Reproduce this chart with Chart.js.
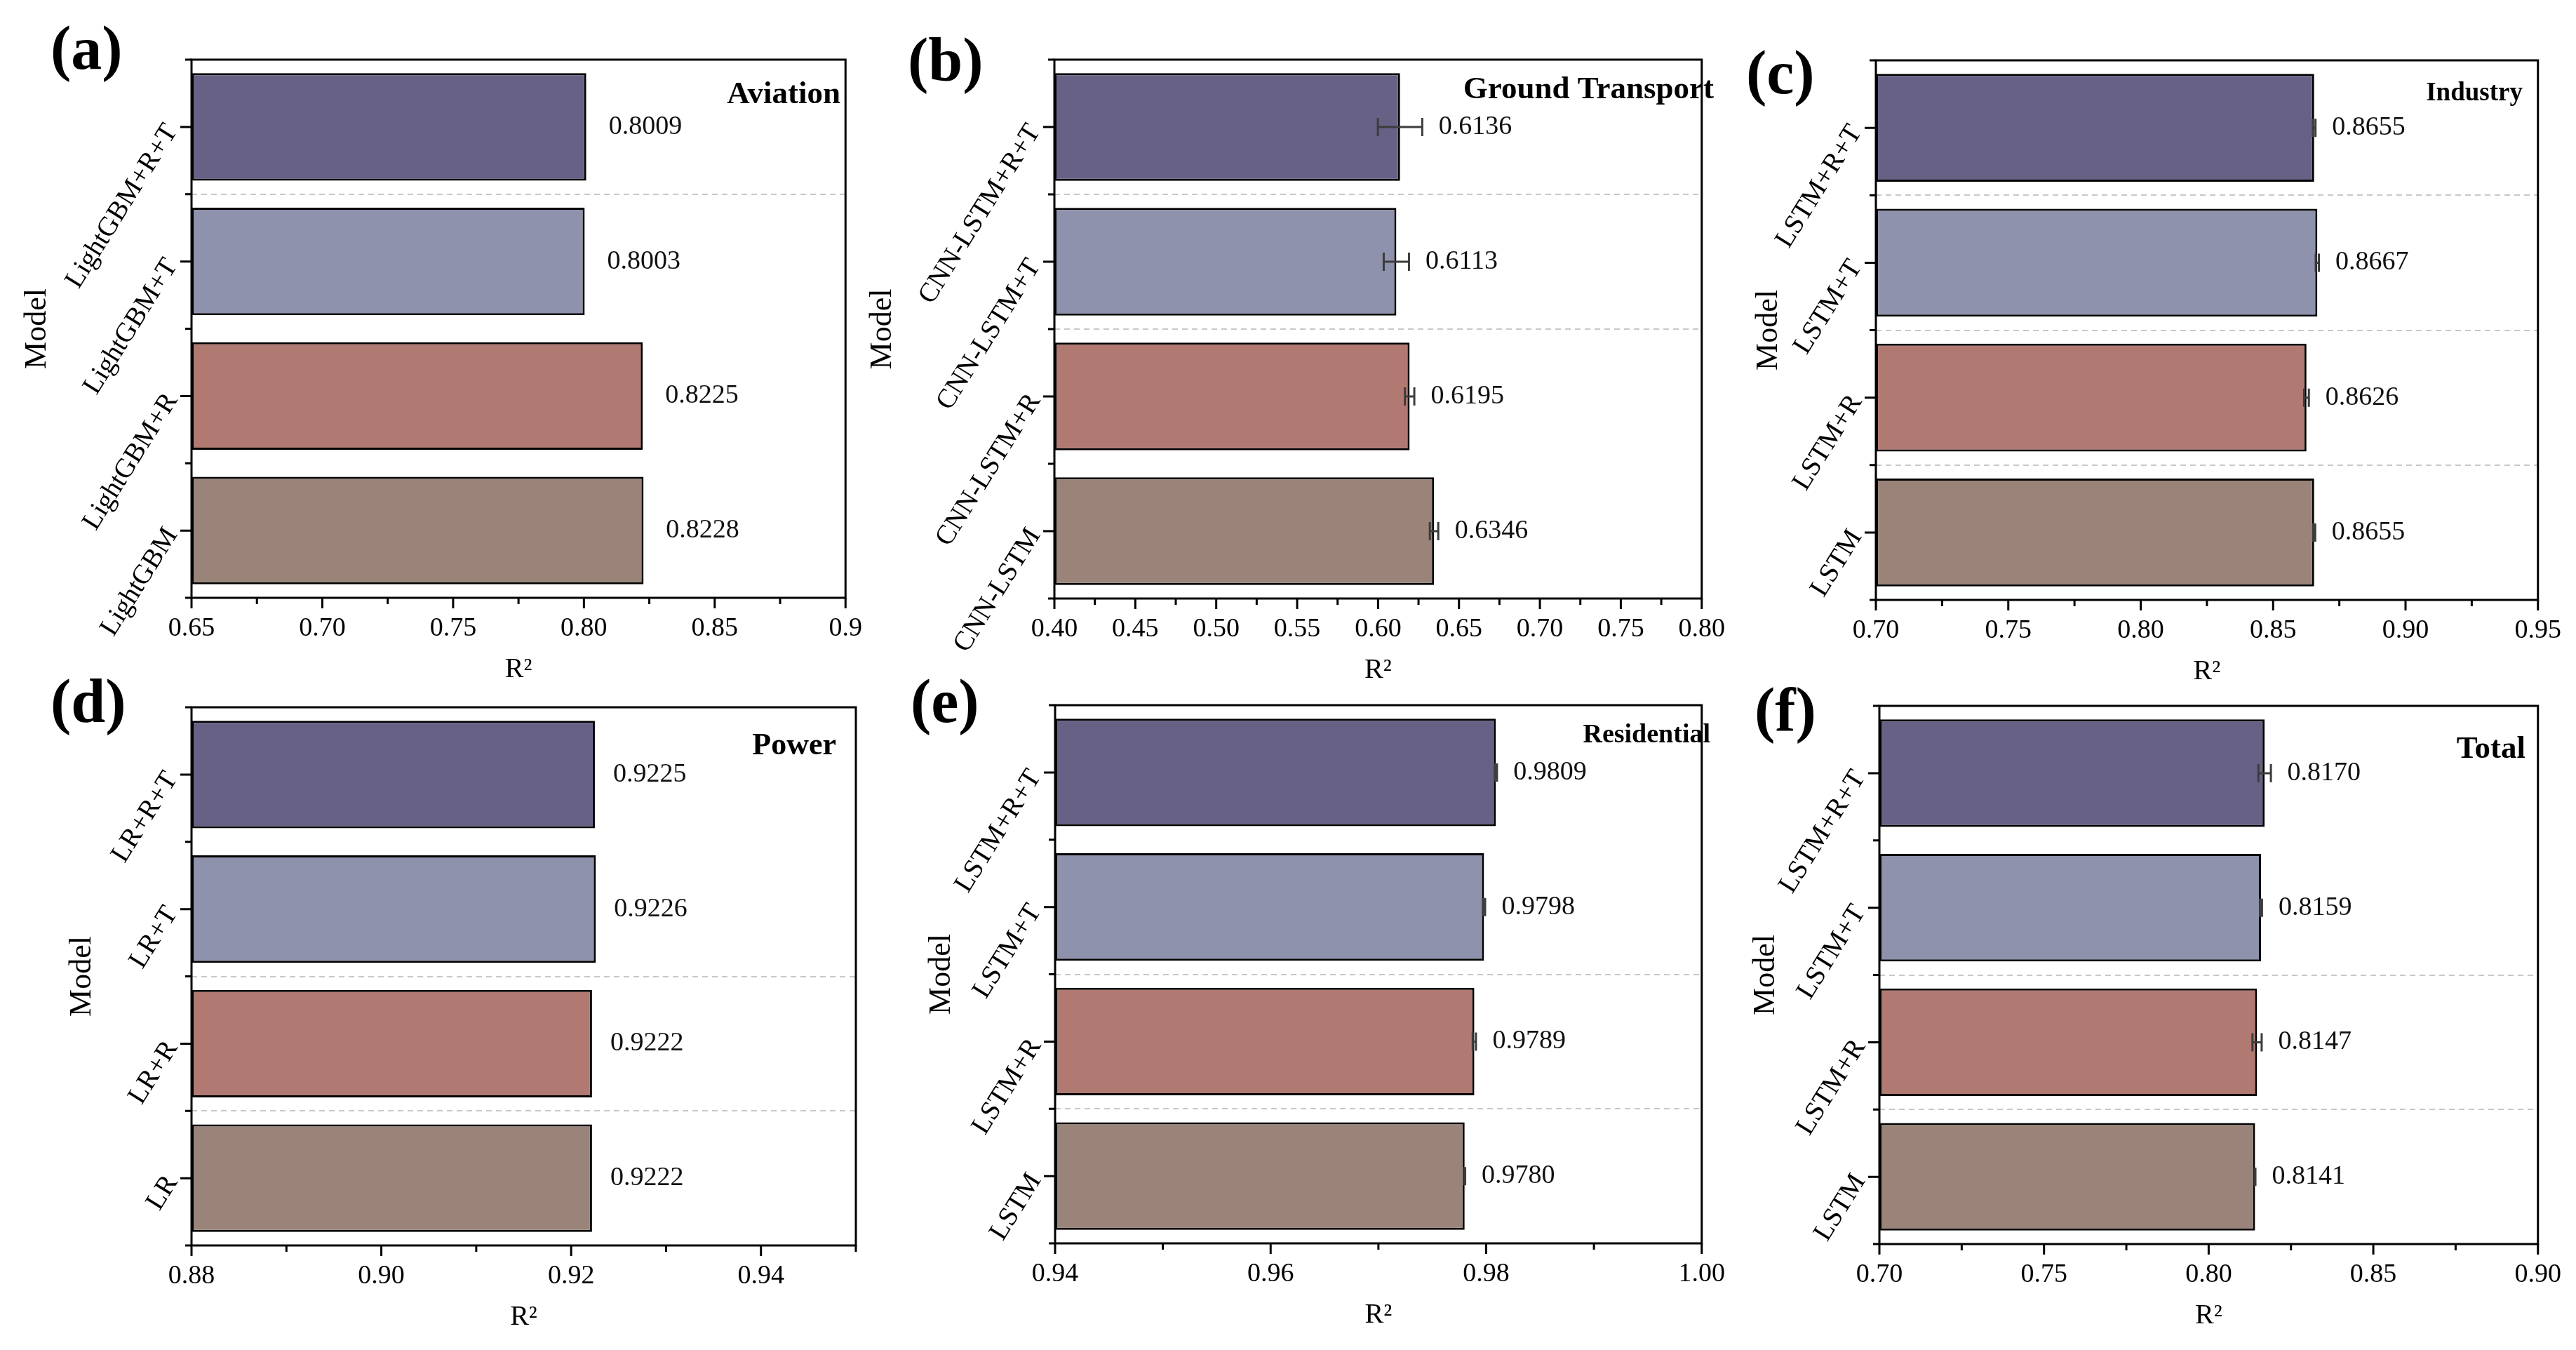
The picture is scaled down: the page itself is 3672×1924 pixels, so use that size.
<!DOCTYPE html>
<html><head><meta charset="utf-8">
<script src="https://cdn.jsdelivr.net/npm/chart.js@4.4.1/dist/chart.umd.min.js"></script>
<style>
html,body{margin:0;padding:0;background:#fff;width:3672px;height:1924px;overflow:hidden;position:relative;}
canvas{position:absolute;}
</style></head><body>
<script>
// ---------------- data ----------------
const aviationModels = ['LightGBM+R+T','LightGBM+T','LightGBM+R','LightGBM'];
const aviationR2 = [0.8009, 0.8003, 0.8225, 0.8228];
const aviationErr = [0, 0, 0, 0];
const aviationTicks = ['0.65','0.70','0.75','0.80','0.85','0.9'];

const groundModels = ['CNN-LSTM+R+T','CNN-LSTM+T','CNN-LSTM+R','CNN-LSTM'];
const groundR2 = [0.6136, 0.6113, 0.6195, 0.6346];
const groundErr = [0.0137, 0.0078, 0.0029, 0.0026];
const groundTicks = ['0.40','0.45','0.50','0.55','0.60','0.65','0.70','0.75','0.80'];

const industryModels = ['LSTM+R+T','LSTM+T','LSTM+R','LSTM'];
const industryR2 = [0.8655, 0.8667, 0.8626, 0.8655];
const industryErr = [0.0005, 0.0006, 0.0009, 0.0004];
const industryTicks = ['0.70','0.75','0.80','0.85','0.90','0.95'];

const powerModels = ['LR+R+T','LR+T','LR+R','LR'];
const powerR2 = [0.9225, 0.9226, 0.9222, 0.9222];
const powerErr = [0, 0, 0, 0];
const powerTicks = ['0.88','0.90','0.92','0.94'];

const residentialModels = ['LSTM+R+T','LSTM+T','LSTM+R','LSTM'];
const residentialR2 = [0.9809, 0.9798, 0.9789, 0.9780];
const residentialErr = [0.0001, 0.0001, 0.00015, 0.00005];
const residentialTicks = ['0.94','0.96','0.98','1.00'];

const totalModels = ['LSTM+R+T','LSTM+T','LSTM+R','LSTM'];
const totalR2 = [0.8170, 0.8159, 0.8147, 0.8141];
const totalErr = [0.0019, 0.0003, 0.0014, 0.0001];
const totalTicks = ['0.70','0.75','0.80','0.85','0.90'];

// ---------------- style / layout ----------------
const FONT = "'Liberation Serif','Times New Roman',serif";
const barColors = ['#676186', '#8E92AC', '#B07A72', '#9A847A'];

const panels = [
  {models: aviationModels, r2: aviationR2, err: aviationErr, ticks: aviationTicks, min: 0.65, max: 0.9,
   canvas: [0, 0, 1250, 1000], plot: [273, 85, 1220, 852], letter: '(a)', letterXY: [72, 98], labelGap: 32,
   title: 'Aviation', titleSize: 45, titleXY: [1198, 147], modelX: 53, dashed: [0]},
  {models: groundModels, r2: groundR2, err: groundErr, ticks: groundTicks, min: 0.4, max: 0.8,
   canvas: [1200, 0, 1280, 1000], plot: [1503, 85, 2450, 853], letter: '(b)', letterXY: [1294, 115], labelGap: 22,
   title: 'Ground Transport', titleSize: 45, titleXY: [2443, 140], modelX: 1258, dashed: [0, 1]},
  {models: industryModels, r2: industryR2, err: industryErr, ticks: industryTicks, min: 0.7, max: 0.95,
   canvas: [2440, 0, 1232, 1000], plot: [2674, 86, 3621, 855], letter: '(c)', letterXY: [2489, 133], labelGap: 22,
   title: 'Industry', titleSize: 37, titleXY: [3596, 143], modelX: 2521, dashed: [0, 1, 2]},
  {models: powerModels, r2: powerR2, err: powerErr, ticks: powerTicks, min: 0.88, max: 0.95,
   canvas: [0, 920, 1250, 1004], plot: [273, 1008, 1220, 1775], letter: '(d)', letterXY: [72, 1029], labelGap: 26,
   title: 'Power', titleSize: 44, titleXY: [1192, 1075], modelX: 117, dashed: [1, 2]},
  {models: residentialModels, r2: residentialR2, err: residentialErr, ticks: residentialTicks, min: 0.94, max: 1.0,
   canvas: [1200, 920, 1280, 1004], plot: [1504, 1005, 2451, 1772], letter: '(e)', letterXY: [1298, 1029], labelGap: 22,
   title: 'Residential', titleSize: 38, titleXY: [2438, 1058], modelX: 1342, dashed: [1, 2]},
  {models: totalModels, r2: totalR2, err: totalErr, ticks: totalTicks, min: 0.7, max: 0.9,
   canvas: [2440, 920, 1232, 1004], plot: [2679, 1006, 3626, 1773], letter: '(f)', letterXY: [2501, 1041], labelGap: 22,
   title: 'Total', titleSize: 45, titleXY: [3600, 1080], modelX: 2517, dashed: [1, 2]}
];

function makeDecor(p) {
  const [cx, cy] = p.canvas;
  return {
    id: 'panelDecor',
    beforeDatasetsDraw(chart) {
      const {ctx, chartArea: a, scales: {y}} = chart;
      ctx.save();
      ctx.strokeStyle = '#c8c8c8';
      ctx.lineWidth = 2;
      ctx.setLineDash([8, 6]);
      p.dashed.forEach(i => {
        const yy = Math.round((y.getPixelForValue(i) + y.getPixelForValue(i + 1)) / 2);
        ctx.beginPath(); ctx.moveTo(a.left, yy); ctx.lineTo(a.right, yy); ctx.stroke();
      });
      ctx.restore();
    },
    afterDatasetsDraw(chart) {
      const {ctx, scales: {x}} = chart;
      const meta = chart.getDatasetMeta(0);
      const ds = chart.data.datasets[0];
      ctx.save();
      meta.data.forEach((bar, i) => {
        const v = ds.data[i], e = ds.errors[i];
        const yy = bar.y;
        let xe = x.getPixelForValue(v);
        if (e > 0) {
          const x0 = x.getPixelForValue(v - e), x1 = x.getPixelForValue(v + e);
          ctx.strokeStyle = '#3c3c3c'; ctx.lineWidth = 3;
          ctx.beginPath();
          ctx.moveTo(x0, yy); ctx.lineTo(x1, yy);
          ctx.moveTo(x0, yy - 13); ctx.lineTo(x0, yy + 13);
          ctx.moveTo(x1, yy - 13); ctx.lineTo(x1, yy + 13);
          ctx.stroke();
          xe = x1 + 1.5;
        }
        ctx.fillStyle = '#111';
        ctx.font = `38px ${FONT}`;
        ctx.textAlign = 'left'; ctx.textBaseline = 'middle';
        ctx.fillText(v.toFixed(4), xe + p.labelGap, yy);
      });
      ctx.restore();
    },
    afterDraw(chart) {
      const {ctx, chartArea: a, scales: {x, y}} = chart;
      ctx.save();
      ctx.strokeStyle = '#000'; ctx.lineWidth = 3;
      ctx.strokeRect(a.left, a.top, a.right - a.left, a.bottom - a.top);
      ctx.beginPath();
      const n = p.models.length;
      for (let i = 0; i < n; i++) {
        const yy = y.getPixelForValue(i);
        ctx.moveTo(a.left - 16, yy); ctx.lineTo(a.left, yy);
      }
      for (let i = 0; i <= n; i++) {
        const yy = a.top + (a.bottom - a.top) * i / n;
        ctx.moveTo(a.left - 9, yy); ctx.lineTo(a.left, yy);
      }
      const majors = p.ticks.map(Number);
      const step = majors[1] - majors[0];
      majors.forEach(v => {
        const xx = x.getPixelForValue(v);
        ctx.moveTo(xx, a.bottom); ctx.lineTo(xx, a.bottom + 15);
        const m = v + step / 2;
        if (m <= p.max + 1e-9) {
          const xm = x.getPixelForValue(m);
          ctx.moveTo(xm, a.bottom); ctx.lineTo(xm, a.bottom + 9);
        }
      });
      ctx.stroke();
      ctx.fillStyle = '#000';
      ctx.font = `bold ${p.titleSize}px ${FONT}`;
      ctx.textAlign = 'right'; ctx.textBaseline = 'alphabetic';
      ctx.fillText(p.title, p.titleXY[0] - cx, p.titleXY[1] - cy);
      ctx.font = `bold 88px ${FONT}`;
      ctx.textAlign = 'left';
      ctx.fillText(p.letter, p.letterXY[0] - cx, p.letterXY[1] - cy);
      ctx.restore();
    }
  };
}

function makeChart(p) {
  const [cx, cy, cw, ch] = p.canvas;
  const [pl, pt, pr, pb] = p.plot;
  const c = document.createElement('canvas');
  c.width = cw; c.height = ch;
  c.style.left = cx + 'px'; c.style.top = cy + 'px';
  c.style.width = cw + 'px'; c.style.height = ch + 'px';
  document.body.appendChild(c);
  const yW = pl - cx;
  const xH = cy + ch - pb;
  const majors = p.ticks.map(Number);
  new Chart(c, {
    type: 'bar',
    data: {
      labels: p.models,
      datasets: [{
        data: p.r2, errors: p.err,
        backgroundColor: barColors, borderColor: '#000', borderWidth: 3, borderSkipped: false,
        barPercentage: 0.8, categoryPercentage: 1, base: p.min
      }]
    },
    options: {
      indexAxis: 'y', responsive: false, animation: false, devicePixelRatio: 1,
      layout: {padding: {left: 0, top: pt - cy, right: cx + cw - pr, bottom: 0}},
      plugins: {legend: {display: false}, tooltip: {enabled: false}},
      scales: {
        x: {
          type: 'linear', min: p.min, max: p.max,
          grid: {display: false, drawTicks: false}, border: {display: false},
          afterBuildTicks: s => { s.ticks = majors.map(v => ({value: v})); },
          afterFit: s => { s.height = xH; },
          ticks: {callback: (v, i) => p.ticks[i], font: {family: FONT, size: 38}, color: '#000',
                  padding: 21, maxRotation: 0, minRotation: 0, autoSkip: false},
          title: {display: true, text: 'R²', color: '#000', font: {family: FONT, size: 40, lineHeight: 1},
                  padding: {top: 0, bottom: (cy + ch) - (pb + 102) - 20}}
        },
        y: {
          type: 'category',
          grid: {display: false, drawTicks: false}, border: {display: false},
          afterFit: s => { s.width = yW; },
          ticks: {font: {family: FONT, size: 39}, color: '#000', padding: 28,
                  minRotation: 58, maxRotation: 58, autoSkip: false},
          title: {display: true, text: 'Model', color: '#000', font: {family: FONT, size: 44, lineHeight: 1},
                  padding: {top: p.modelX - cx - 22, bottom: 0}}
        }
      }
    },
    plugins: [makeDecor(p)]
  });
}

panels.forEach(makeChart);
</script>
</body></html>
